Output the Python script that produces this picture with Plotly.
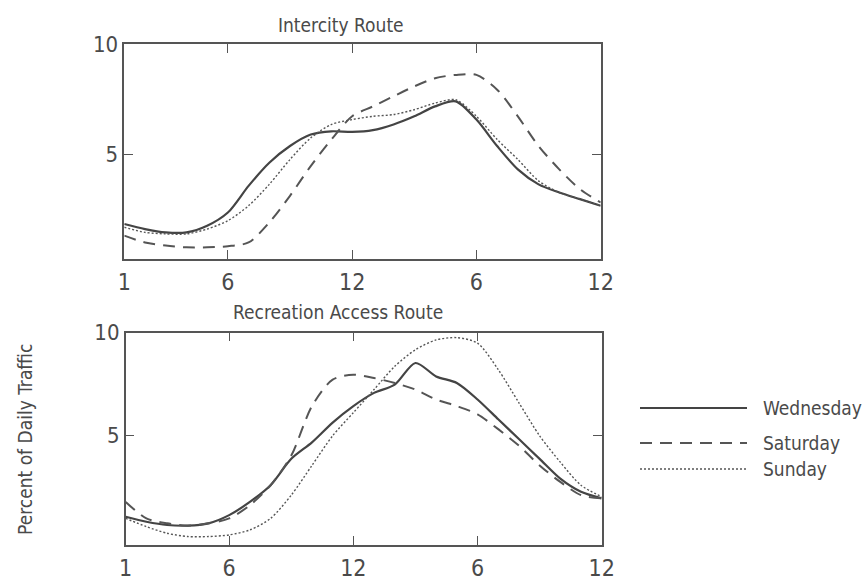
import plotly.graph_objects as go

hours = list(range(1, 25))
tick_vals = [1, 6, 12, 18, 24]
tick_text = ["1", "6", "12", "6", "12"]

series_names = ["Wednesday", "Saturday", "Sunday"]

intercity_wed = [1.84, 1.61, 1.46, 1.46, 1.76, 2.36, 3.57, 4.62, 5.38, 5.90, 6.05, 6.02,
                 6.10, 6.36, 6.73, 7.18, 7.41, 6.58, 5.38, 4.32, 3.64, 3.27, 2.97, 2.67]
intercity_sat = [1.31, 1.00, 0.86, 0.78, 0.78, 0.83, 1.00, 1.91, 3.12, 4.47, 5.68, 6.73,
                 7.18, 7.64, 8.09, 8.46, 8.61, 8.61, 7.94, 6.73, 5.38, 4.32, 3.42, 2.82]
intercity_sun = [1.69, 1.46, 1.39, 1.39, 1.61, 1.99, 2.67, 3.64, 4.77, 5.75, 6.36, 6.58,
                 6.73, 6.81, 7.03, 7.33, 7.48, 6.73, 5.68, 4.77, 3.80, 3.27, 2.97, 2.67]

recreation_wed = [1.07, 0.83, 0.67, 0.64, 0.75, 1.15, 1.79, 2.60, 3.88, 4.68, 5.64, 6.44,
                  7.08, 7.48, 8.53, 7.88, 7.56, 6.76, 5.80, 4.84, 3.88, 2.92, 2.28, 1.96]
recreation_sat = [1.79, 0.99, 0.75, 0.64, 0.75, 0.99, 1.63, 2.60, 4.04, 6.44, 7.72, 7.96,
                  7.80, 7.56, 7.24, 6.76, 6.44, 6.04, 5.32, 4.52, 3.56, 2.76, 2.12, 1.96]
recreation_sun = [0.99, 0.59, 0.27, 0.11, 0.11, 0.19, 0.43, 0.99, 2.12, 3.56, 5.00, 6.12,
                  7.24, 8.37, 9.17, 9.65, 9.76, 9.49, 8.21, 6.60, 5.00, 3.72, 2.60, 2.04]

FONT = "DejaVu Sans Condensed, DejaVu Sans, sans-serif"
INK = "#4a4a4a"
LINE = "#444444"

W, H = 866, 578

styles = {
    "Wednesday": dict(color=LINE, width=2.2, dash="solid"),
    "Saturday": dict(color="#555555", width=2.0, dash="12px,8px"),
    "Sunday": dict(color="#555555", width=1.4, dash="2px,2px"),
}

fig = go.Figure()

panels = [
    ("x", "y", [intercity_wed, intercity_sat, intercity_sun]),
    ("x2", "y2", [recreation_wed, recreation_sat, recreation_sun]),
]
for xa, ya, data in panels:
    for name, vals in zip(series_names, data):
        fig.add_trace(go.Scatter(
            x=hours, y=vals, mode="lines", name=name, showlegend=False,
            line=dict(shape="spline", smoothing=0.8, **styles[name]),
            xaxis=xa, yaxis=ya, hoverinfo="skip"))

# custom legend drawn on a hidden axis (y measured in pixels from top)
legend_rows = [408, 443, 469]
for name, row in zip(series_names, legend_rows):
    fig.add_trace(go.Scatter(
        x=[0, 1], y=[row, row], mode="lines", showlegend=False,
        line=styles[name], xaxis="x3", yaxis="y3", hoverinfo="skip"))
    fig.add_annotation(x=1, y=row, xref="x3", yref="y3", text=name,
                       showarrow=False, xanchor="left", yanchor="middle", xshift=14,
                       font=dict(family=FONT, size=19, color=INK))

xcommon = dict(range=[1, 24], tickvals=tick_vals, ticktext=tick_text, automargin=False,
               showline=True, linecolor="#555555", linewidth=1.5, mirror="allticks",
               ticks="inside", ticklen=9, tickwidth=1.2, tickcolor="#555555",
               showgrid=False, zeroline=False, ticklabelstandoff=2,
               tickfont=dict(family=FONT, size=23, color=INK))
ycommon = dict(tickvals=[5, 10], showline=True, linecolor="#555555", linewidth=1.5,
               mirror="allticks", ticks="inside", ticklen=9, tickwidth=1.2, automargin=False,
               tickcolor="#555555", showgrid=False, zeroline=False,
               tickfont=dict(family=FONT, size=22, color=INK))


def px(x):
    return x / W


def py(y):
    return 1 - y / H


fig.update_layout(
    width=W, height=H,
    margin=dict(l=0, r=0, t=0, b=0, pad=0, autoexpand=False),
    paper_bgcolor="white", plot_bgcolor="white",
    xaxis=dict(domain=[px(124.3), px(600.7)], anchor="y", **xcommon),
    yaxis=dict(domain=[py(259), py(44.3)], anchor="x", range=[0.25, 10], **ycommon),
    xaxis2=dict(domain=[px(125.7), px(601.7)], anchor="y2", **xcommon),
    yaxis2=dict(domain=[py(545), py(332.7)], anchor="x2", range=[-0.3, 10], **ycommon),
    xaxis3=dict(domain=[px(640), px(747)], range=[0, 1], visible=False, anchor="y3",
                automargin=False),
    yaxis3=dict(domain=[0, 1], range=[H, 0], visible=False, anchor="x3",
                automargin=False),
    showlegend=False,
)

fig.add_annotation(x=px(341), y=py(25), xref="paper", yref="paper",
                   text="Intercity Route", showarrow=False, yanchor="middle",
                   font=dict(family=FONT, size=19, color=INK))
fig.add_annotation(x=px(338), y=py(312), xref="paper", yref="paper",
                   text="Recreation Access Route", showarrow=False, yanchor="middle",
                   font=dict(family=FONT, size=19, color=INK))
fig.add_annotation(x=px(25), y=py(440), xref="paper", yref="paper",
                   text="Percent of Daily Traffic", showarrow=False, textangle=-90,
                   xanchor="center", yanchor="middle",
                   font=dict(family=FONT, size=19, color=INK))

fig.write_html("out.html", config={"displayModeBar": False},
               post_script="document.body.style.margin='0';document.body.style.overflow='hidden';")
